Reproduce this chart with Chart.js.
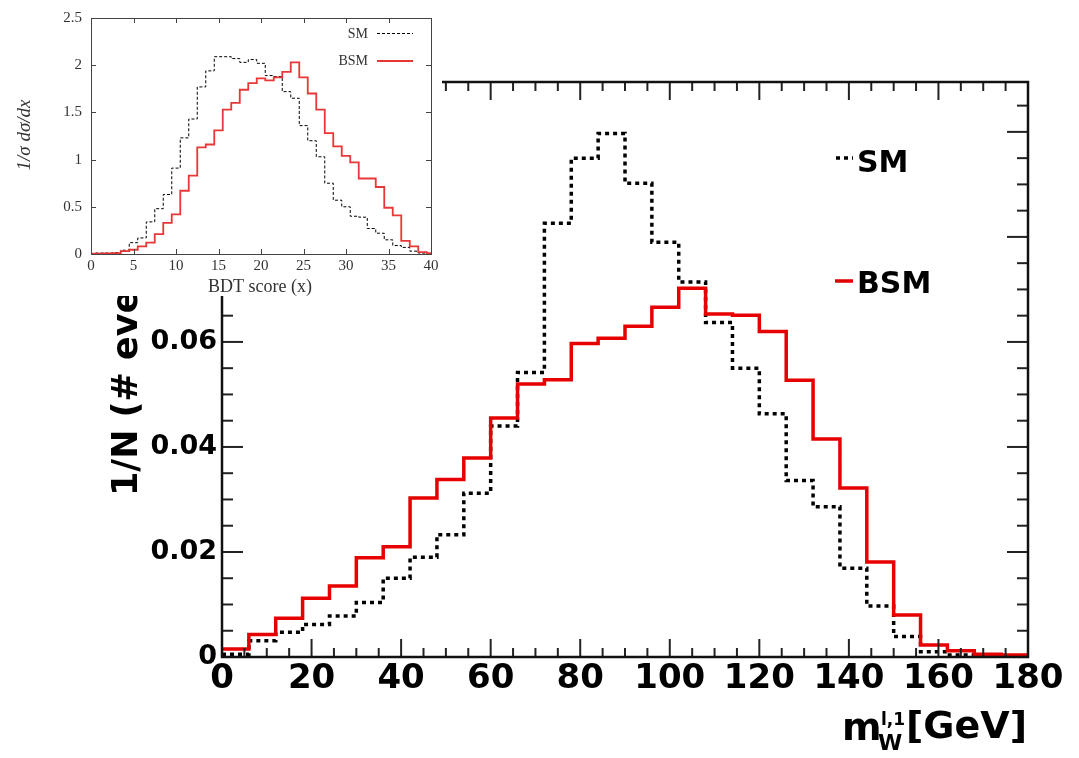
<!DOCTYPE html>
<html>
<head>
<meta charset="utf-8">
<script src="https://cdn.jsdelivr.net/npm/chart.js@4.4.1/dist/chart.umd.min.js"></script>
<style>
html, body { margin: 0; padding: 0; background: #fff; }
#wrap { position: relative; width: 1079px; height: 758px; }
#main { position: absolute; left: 0; top: 0; }
#insetBox { position: absolute; left: 0; top: 0; width: 442px; height: 296px; background: #fff; }
</style>
</head>
<body>
<div id="wrap">
  <canvas id="main" width="1079" height="758"></canvas>
  <div id="insetBox"><canvas id="inset" width="442" height="296"></canvas></div>
</div>
<script>
// main plot: m_W^{l,1}, 6 GeV bins
const massEdges = [0, 6, 12, 18, 24, 30, 36, 42, 48, 54, 60, 66, 72, 78, 84, 90, 96, 102, 108, 114, 120, 126, 132, 138, 144, 150, 156, 162, 168, 174, 180];
const smMass = [0.0005, 0.0031, 0.0047, 0.0062, 0.0078, 0.0104, 0.015, 0.019, 0.0233, 0.0312, 0.044, 0.0542, 0.0826, 0.095, 0.0997, 0.0902, 0.079, 0.0714, 0.0637, 0.055, 0.0463, 0.0336, 0.0286, 0.0169, 0.0097, 0.0039, 0.001, 0.0004, 0.0002, 0.0001];
const bsmMass = [0.0015, 0.0043, 0.0074, 0.0112, 0.0135, 0.0189, 0.021, 0.0303, 0.0338, 0.0379, 0.0455, 0.052, 0.0528, 0.0597, 0.0607, 0.063, 0.0666, 0.0702, 0.0653, 0.0651, 0.062, 0.0527, 0.0415, 0.0322, 0.0181, 0.008, 0.0023, 0.0012, 0.0005, 0.0004];
const massMajor = [0, 20, 40, 60, 80, 100, 120, 140, 160, 180];
const rateMajor = [0, 0.02, 0.04, 0.06, 0.08, 0.1];

// inset: BDT score, bins centred on integers
const bdtCentres = [0, 1, 2, 3, 4, 5, 6, 7, 8, 9, 10, 11, 12, 13, 14, 15, 16, 17, 18, 19, 20, 21, 22, 23, 24, 25, 26, 27, 28, 29, 30, 31, 32, 33, 34, 35, 36, 37, 38, 39, 40];
const smBdt = [0.005, 0.01, 0.01, 0.015, 0.04, 0.12, 0.17, 0.34, 0.48, 0.63, 0.91, 1.23, 1.43, 1.77, 1.94, 2.09, 2.09, 2.07, 2.03, 2.06, 2.02, 1.89, 1.88, 1.72, 1.65, 1.36, 1.2, 1.03, 0.75, 0.57, 0.5, 0.4, 0.39, 0.27, 0.22, 0.15, 0.09, 0.07, 0.03, 0.01, 0.005];
const bsmBdt = [0.003, 0.005, 0.007, 0.01, 0.03, 0.045, 0.08, 0.12, 0.21, 0.33, 0.42, 0.67, 0.83, 1.13, 1.16, 1.31, 1.53, 1.6, 1.74, 1.81, 1.86, 1.84, 1.87, 1.93, 2.03, 1.87, 1.7, 1.53, 1.28, 1.14, 1.04, 0.97, 0.8, 0.8, 0.71, 0.49, 0.41, 0.14, 0.08, 0.02, 0.01];
const bdtMajor = [0, 5, 10, 15, 20, 25, 30, 35, 40];
const xsecMajor = [0, 0.5, 1, 1.5, 2, 2.5];

const SANS = '"DejaVu Sans", Arial, sans-serif';
const SERIF = '"Liberation Serif", "Times New Roman", serif';

// step points: value i holds from edge i to edge i+1
function histPoints(edges, vals) {
    const pts = vals.map((v, i) => ({ x: edges[i], y: v }));
    pts.push({ x: edges[edges.length - 1], y: vals[vals.length - 1] });
    return pts;
}

function seg(ctx, x1, y1, x2, y2) {
    ctx.beginPath();
    ctx.moveTo(x1, y1);
    ctx.lineTo(x2, y2);
    ctx.stroke();
}

const bdtEdges = [bdtCentres[0]].concat(bdtCentres.slice(1).map(c => c - 0.5), [bdtCentres[bdtCentres.length - 1]]);

const mainDeco = {
    id: 'mainDeco',
    afterDraw(chart) {
        const { ctx, chartArea: a, scales: { x, y } } = chart;
        ctx.save();
        // ticks pointing inwards, minor every 5 GeV / 0.005
        ctx.strokeStyle = '#222';
        ctx.lineWidth = 2;
        for (let k = 0; k * 5 <= x.max; k++) {
            const px = x.getPixelForValue(k * 5);
            const len = massMajor.includes(k * 5) ? 18 : 9;
            seg(ctx, px, a.bottom, px, a.bottom - len);
            seg(ctx, px, a.top, px, a.top + len);
        }
        for (let k = 0; k * 0.005 <= y.max; k++) {
            const py = y.getPixelForValue(k * 0.005);
            const len = k % 4 === 0 ? 21 : 11;
            seg(ctx, a.left, py, a.left + len, py);
            seg(ctx, a.right, py, a.right - len, py);
        }
        ctx.strokeStyle = '#111';
        ctx.lineWidth = 2.5;
        ctx.strokeRect(a.left, a.top, a.right - a.left, a.bottom - a.top);

        // legend
        ctx.lineWidth = 3.5;
        ctx.strokeStyle = '#000';
        ctx.setLineDash([4, 4]);
        seg(ctx, 836, 158, 853, 158);
        ctx.setLineDash([]);
        ctx.strokeStyle = '#e00000';
        seg(ctx, 835, 281, 853, 281);
        ctx.fillStyle = '#000';
        ctx.textBaseline = 'alphabetic';
        ctx.font = 'bold 30px ' + SANS;
        ctx.fillText('SM', 857, 172);
        ctx.fillText('BSM', 857, 293);

        // x title m_W^{l,1} [GeV]
        ctx.font = 'bold 38px ' + SANS;
        ctx.fillText('m', 842, 740);
        ctx.font = 'bold 17px ' + SANS;
        ctx.fillText('l,1', 881, 725);
        ctx.font = 'bold 22px ' + SANS;
        ctx.fillText('W', 878, 750);
        ctx.font = 'bold 38px ' + SANS;
        ctx.fillText('[GeV]', 906, 738);

        // y title (mostly hidden under the inset)
        ctx.translate(137, 496);
        ctx.rotate(-Math.PI / 2);
        ctx.font = 'bold 35px ' + SANS;
        ctx.fillText('1/N (# events)', 0, 0);
        ctx.restore();
    }
};

new Chart(document.getElementById('main'), {
    type: 'line',
    data: {
        datasets: [
            {
                label: 'BSM',
                data: histPoints(massEdges, bsmMass),
                stepped: true,
                borderColor: '#e60000',
                borderWidth: 3.5,
                pointRadius: 0,
                fill: false
            },
            {
                label: 'SM',
                data: histPoints(massEdges, smMass),
                stepped: true,
                borderColor: '#000',
                borderWidth: 3.5,
                borderDash: [4, 4],
                pointRadius: 0,
                fill: false
            }
        ]
    },
    options: {
        responsive: false,
        animation: false,
        layout: { padding: { left: 0, top: 82, right: 51, bottom: 0 } },
        plugins: { legend: { display: false }, tooltip: { enabled: false } },
        scales: {
            x: {
                type: 'linear',
                min: 0,
                max: 180,
                grid: { display: false, drawTicks: false },
                border: { display: false },
                afterFit: s => { s.height = 101; },
                afterBuildTicks: s => { s.ticks = massMajor.map(v => ({ value: v })); },
                ticks: {
                    color: '#000',
                    padding: 2,
                    maxRotation: 0,
                    autoSkip: false,
                    font: { family: SANS, size: 34, weight: 'bold' }
                }
            },
            y: {
                min: 0,
                max: 0.1095,
                grid: { display: false, drawTicks: false },
                border: { display: false },
                afterFit: s => { s.width = 222; },
                afterBuildTicks: s => { s.ticks = rateMajor.map(v => ({ value: v })); },
                ticks: {
                    color: '#000',
                    padding: 5,
                    font: { family: SANS, size: 27, weight: 'bold' },
                    callback: v => String(+v.toFixed(3))
                }
            }
        }
    },
    plugins: [mainDeco]
});

const insetDeco = {
    id: 'insetDeco',
    afterDraw(chart) {
        const { ctx, chartArea: a, scales: { x, y } } = chart;
        ctx.save();
        ctx.strokeStyle = '#444';
        ctx.lineWidth = 1;
        bdtMajor.forEach(v => {
            const px = Math.round(x.getPixelForValue(v)) + 0.5;
            seg(ctx, px, a.bottom, px, a.bottom - 5);
            seg(ctx, px, a.top, px, a.top + 5);
        });
        xsecMajor.forEach(v => {
            const py = Math.round(y.getPixelForValue(v)) + 0.5;
            seg(ctx, a.left, py, a.left + 5, py);
            seg(ctx, a.right, py, a.right - 5, py);
        });
        ctx.strokeRect(Math.round(a.left) + 0.5, Math.round(a.top) + 0.5, Math.round(a.right - a.left), Math.round(a.bottom - a.top));

        // legend
        ctx.fillStyle = '#333';
        ctx.font = '14px ' + SERIF;
        ctx.textAlign = 'right';
        ctx.textBaseline = 'alphabetic';
        ctx.fillText('SM', 368, 38);
        ctx.fillText('BSM', 368, 65);
        ctx.strokeStyle = '#000';
        ctx.setLineDash([3, 2]);
        seg(ctx, 377, 33.5, 413, 33.5);
        ctx.setLineDash([]);
        ctx.strokeStyle = 'rgb(232,55,55)';
        ctx.lineWidth = 2;
        seg(ctx, 377, 61, 413, 61);

        // axis titles
        ctx.textAlign = 'center';
        ctx.textBaseline = 'middle';
        ctx.font = '18px ' + SERIF;
        ctx.fillText('BDT score (x)', 260, 287);
        ctx.translate(25, 135);
        ctx.rotate(-Math.PI / 2);
        ctx.font = 'italic 19px ' + SERIF;
        ctx.fillText('1/σ dσ/dx', 0, 0);
        ctx.restore();
    }
};

new Chart(document.getElementById('inset'), {
    type: 'line',
    data: {
        datasets: [
            {
                label: 'BSM',
                data: histPoints(bdtEdges, bsmBdt),
                stepped: true,
                borderColor: 'rgb(232,55,55)',
                borderWidth: 1.8,
                pointRadius: 0,
                fill: false
            },
            {
                label: 'SM',
                data: histPoints(bdtEdges, smBdt),
                stepped: true,
                borderColor: '#000',
                borderWidth: 1,
                borderDash: [3, 2],
                pointRadius: 0,
                fill: false
            }
        ]
    },
    options: {
        responsive: false,
        animation: false,
        layout: { padding: { left: 0, top: 15, right: 11, bottom: 0 } },
        plugins: { legend: { display: false }, tooltip: { enabled: false } },
        scales: {
            x: {
                type: 'linear',
                min: 0,
                max: 40,
                grid: { display: false, drawTicks: false },
                border: { display: false },
                afterFit: s => { s.height = 42; },
                afterBuildTicks: s => { s.ticks = bdtMajor.map(v => ({ value: v })); },
                ticks: { color: '#333', padding: 3, maxRotation: 0, font: { family: SERIF, size: 15 } }
            },
            y: {
                min: 0,
                max: 2.5,
                grid: { display: false, drawTicks: false },
                border: { display: false },
                afterFit: s => { s.width = 91; },
                afterBuildTicks: s => { s.ticks = xsecMajor.map(v => ({ value: v })); },
                ticks: { color: '#333', padding: 9, font: { family: SERIF, size: 15 }, callback: v => String(v) }
            }
        }
    },
    plugins: [insetDeco]
});
</script>
</body>
</html>
